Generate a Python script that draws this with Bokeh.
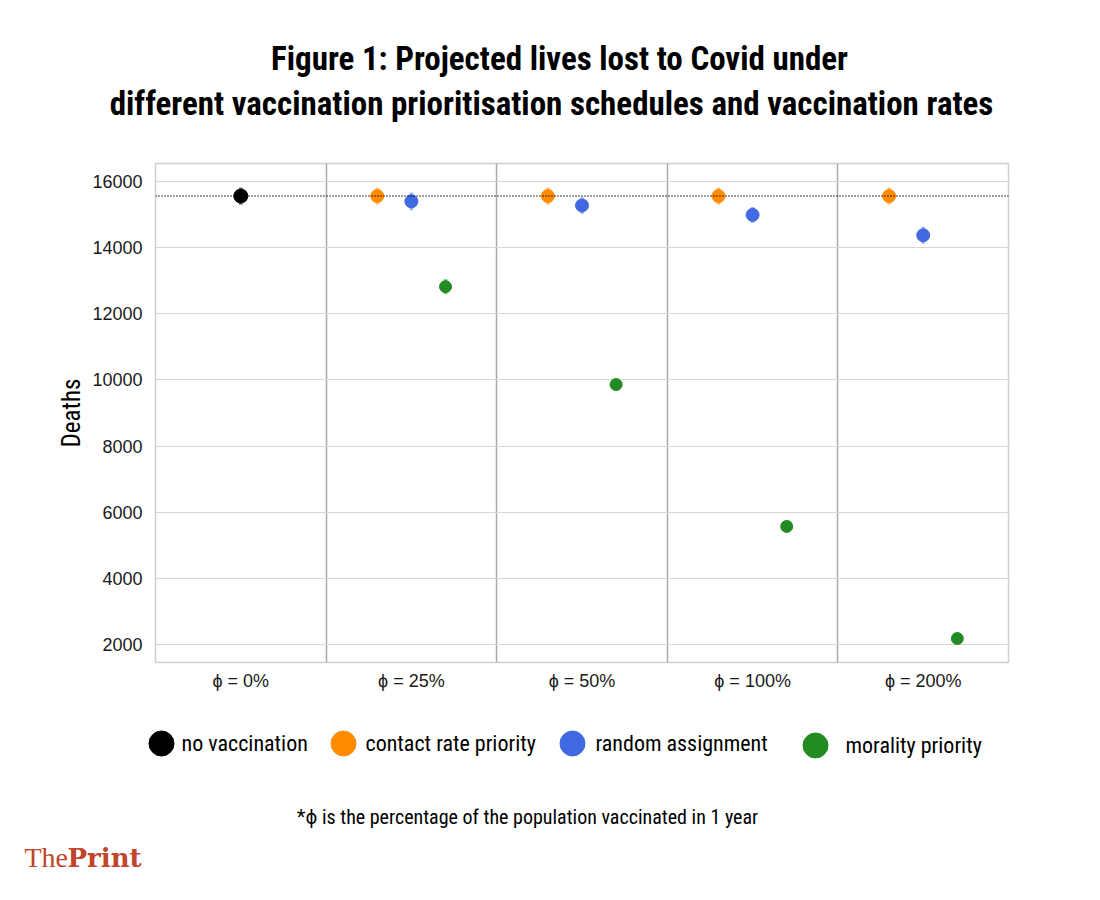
from bokeh.plotting import figure
from bokeh.layouts import column
from bokeh.models import (Range1d, FixedTicker, SingleIntervalTicker, Span, ColumnDataSource)
from bokeh.core.properties import value
from bokeh.transform import dodge
from bokeh.embed import file_html
from bokeh.resources import INLINE

# ---------------- data ----------------
groups = ["ϕ = 0%", "ϕ = 25%", "ϕ = 50%", "ϕ = 100%", "ϕ = 200%"]
vacc_groups = [1, 2, 3, 4]          # index of groups with vaccination

no_vacc = [15560]
no_vacc_err = [260]

contact_rate = [15560, 15560, 15560, 15560]
contact_rate_err = [260, 260, 260, 260]

random_assign = [15400, 15275, 14990, 14375]
random_assign_err = [270, 250, 240, 260]

mortality = [12820, 9860, 5570, 2180]
mortality_err = [230, 100, 80, 60]

series_names = ["no vaccination", "contact rate priority", "random assignment", "morality priority"]
colors = ["#000000", "#ff8c00", "#4169e1", "#228b22"]

title_lines = ["Figure 1: Projected lives lost to Covid under",
               "different vaccination prioritisation schedules and vaccination rates"]
footnote = "*ϕ is the percentage of the population vaccinated in 1 year"

COND = "Roboto Condensed, DejaVu Sans Condensed, Liberation Sans Narrow, Roboto"
SANS = "Liberation Sans"
W = 1100


def blank(height, ytop, ybot):
    f = figure(width=W, height=height, x_range=Range1d(0, W), y_range=Range1d(ybot, ytop),
               output_backend="svg", toolbar_location=None, title=None,
               x_axis_location=None, y_axis_location=None, frame_align=False,
               min_border_left=0, min_border_right=0, min_border_top=0, min_border_bottom=0)
    f.outline_line_color = None
    f.grid.visible = False
    f.background_fill_color = "white"
    f.border_fill_color = "white"
    return f


# ---------------- title panel (page y 0..160) ----------------
top = blank(160, 0, 160)
top.text(x=[559, 551], y=[58, 103], text=title_lines, text_align="center",
         text_baseline="middle", text_font=value(COND), text_font_style="bold",
         text_font_size="33px", text_color="black")

# ---------------- main chart (page y 160..710) ----------------
p = figure(width=W, height=550, x_range=Range1d(-0.5, 4.5), y_range=Range1d(1456, 16544),
           output_backend="svg", toolbar_location=None, title=None, frame_align=False,
           min_border_left=155, min_border_right=92, min_border_top=3, min_border_bottom=48)
p.outline_line_color = "#cfcfcf"
p.outline_line_width = 1.5
p.background_fill_color = "white"
p.border_fill_color = "white"

p.yaxis.ticker = SingleIntervalTicker(interval=2000)
p.xaxis.ticker = FixedTicker(ticks=list(range(len(groups))))
p.xaxis.major_label_overrides = {i: g for i, g in enumerate(groups)}
for ax in (p.xaxis, p.yaxis):
    ax.axis_line_color = None
    ax.major_tick_line_color = None
    ax.minor_tick_line_color = None
    ax.major_tick_out = 0
    ax.major_tick_in = 0
    ax.major_label_text_font = SANS
    ax.major_label_text_font_size = "18px"
    ax.major_label_text_color = "#1a1a1a"
p.yaxis.major_label_standoff = 9
p.xaxis.major_label_standoff = 8
p.yaxis.axis_label = "Deaths"
p.yaxis.axis_label_text_font = COND
p.yaxis.axis_label_text_font_size = "25px"
p.yaxis.axis_label_text_font_style = "normal"
p.yaxis.axis_label_text_color = "black"
p.yaxis.axis_label_standoff = 3

p.ygrid.grid_line_color = "#d6d6d6"
p.ygrid.grid_line_width = 1
p.xgrid.ticker = FixedTicker(ticks=[i + 0.5 for i in range(len(groups) - 1)])
p.xgrid.grid_line_color = "#a9a9a9"
p.xgrid.grid_line_width = 1.5

p.add_layout(Span(location=no_vacc[0], dimension="width", line_color="black",
                  line_width=1.5, line_dash="1 2"))


def make_src(idx, vals, errs):
    return ColumnDataSource(dict(idx=idx, y=vals,
                                 lo=[v - e for v, e in zip(vals, errs)],
                                 hi=[v + e for v, e in zip(vals, errs)]))


sources = [make_src([0], no_vacc, no_vacc_err),
           make_src(vacc_groups, contact_rate, contact_rate_err),
           make_src(vacc_groups, random_assign, random_assign_err),
           make_src(vacc_groups, mortality, mortality_err)]
offsets = [0.0, -0.2, 0.0, 0.2]
sizes = [14, 13, 13, 12]

for src, off, col, sz in zip(sources, offsets, colors, sizes):
    xd = dodge("idx", off, range=p.x_range)
    p.segment(x0=xd, y0="lo", x1=xd, y1="hi", source=src, line_color=col,
              line_width=3.5, line_alpha=0.5)
    p.scatter(x=xd, y="y", source=src, size=sz, fill_color=col, line_color=col)

# ---------------- legend / footnote / logo panel (page y 710..900) ----------------
bot = blank(190, 710, 900)
leg_marker_x = [161, 343, 572, 815]
leg_text_x = [181, 365, 595, 845]
leg_y = [743, 743, 743, 745]
bot.scatter(x=leg_marker_x, y=leg_y, size=25, fill_color=colors, line_color=colors)
bot.text(x=leg_text_x, y=leg_y, text=series_names, text_align="left", text_baseline="middle",
         text_font=value(COND), text_font_size="22px", text_color="black")
bot.text(x=[527], y=[816], text=[footnote], text_align="center", text_baseline="middle",
         text_font=value(COND), text_font_size="20px", text_color="black")
bot.text(x=[24], y=[857], text=["The"], text_align="left", text_baseline="alphabetic",
         text_font=value("Liberation Serif"), text_font_size="28px", text_color="#c0452a")
bot.text(x=[67], y=[857], text=["Print"], text_align="left", text_baseline="alphabetic",
         text_font=value("DejaVu Serif"), text_font_style="bold", text_font_size="26px",
         text_color="#c0452a")

layout = column(top, p, bot, spacing=0)
open("out.html", "w").write(file_html(layout, INLINE))
